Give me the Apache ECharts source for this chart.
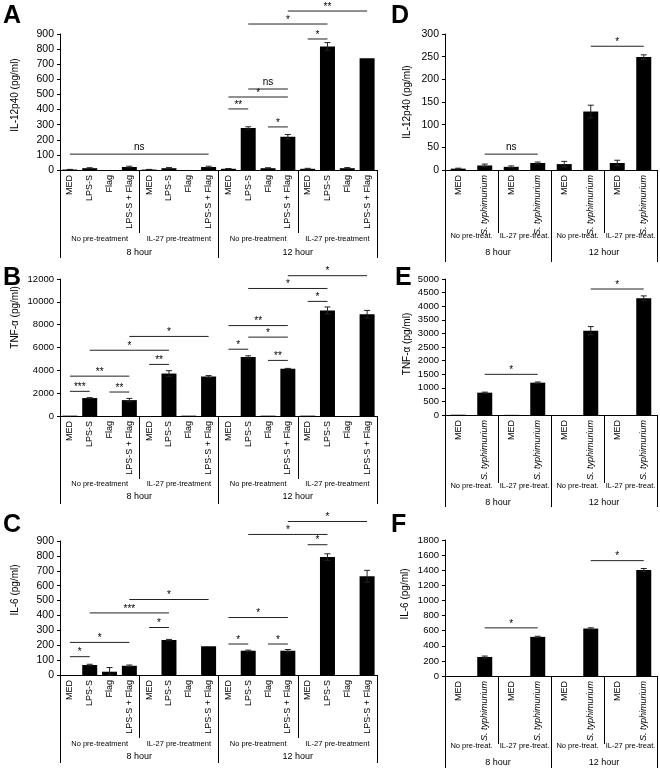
<!DOCTYPE html>
<html><head><meta charset="utf-8">
<script src="https://cdn.jsdelivr.net/npm/echarts@6/dist/echarts.min.js"></script>
<style>html,body{margin:0;padding:0;background:#fff}#c{width:660px;height:770px}</style>
</head><body><div id="c"></div>
<script>
const catsABC = ['MED','LPS-S','Flag','LPS-S + Flag','MED','LPS-S','Flag','LPS-S + Flag','MED','LPS-S','Flag','LPS-S + Flag','MED','LPS-S','Flag','LPS-S + Flag'];
const catsDEF = ['MED','S. typhimurium','MED','S. typhimurium','MED','S. typhimurium','MED','S. typhimurium'];
const subABC = ['No pre-treatment','IL-27 pre-treatment','No pre-treatment','IL-27 pre-treatment'];
const subDEF = ['No pre-treat.','IL-27 pre-treat.','No pre-treat.','IL-27 pre-treat.'];
const hours = ['8 hour','12 hour'];

const il12A    = [3,12,0,20,3,12,0,20,8,278,12,220,8,818,12,740];
const il12AErr = [1,3,0,5,1,4,0,5,2,8,3,15,3,25,4,0];
const tnfB     = [30,1570,0,1390,0,3720,30,3460,0,5170,30,4140,30,9250,0,8920];
const tnfBErr  = [0,40,0,150,0,250,0,80,0,100,0,30,0,300,0,330];
const il6C     = [0,67,22,62,0,235,0,193,0,163,0,163,0,792,0,663];
const il6CErr  = [0,5,28,5,0,4,0,0,0,4,0,8,0,22,0,40];
const il12D    = [3,10,7,15.5,13,129,15.5,249];
const il12DErr = [1,3,2,2,6,14,6,5];
const tnfE     = [10,821,5,1189,0,3100,0,4289];
const tnfEErr  = [0,20,0,25,0,150,0,90];
const il6F     = [0,252,0,518,0,628,0,1403];
const il6FErr  = [0,12,0,8,0,10,0,20];

// significance brackets: [fromCat, toCat, yValue, label]
const sigA = [[0,7,105,'ns'],[8,9,404,'**'],[8,11,483,'*'],[9,11,536,'ns'],[10,11,285,'*'],[12,13,867,'*'],[9,13,966,'*'],[11,15,1052,'**']];
const sigB = [[0,1,2160,'***'],[2,3,2100,'**'],[0,3,3490,'**'],[4,5,4520,'**'],[1,5,5760,'*'],[3,7,6970,'*'],[8,9,5850,'*'],[10,11,4870,'**'],[9,11,6910,'*'],[8,11,7920,'**'],[12,13,10040,'*'],[9,13,11170,'*'],[11,15,12290,'*']];
const sigC = [[0,1,123,'*'],[0,3,219,'*'],[4,5,319,'*'],[1,5,417,'***'],[3,7,507,'*'],[8,9,208,'*'],[10,11,208,'*'],[8,11,386,'*'],[12,13,875,'*'],[9,13,944,'*'],[11,15,1031,'*']];
const sigD = [[1,3,35,'ns'],[5,7,273,'*']];
const sigE = [[1,3,1495,'*'],[5,7,4632,'*']];
const sigF = [[1,3,637,'*'],[5,7,1527,'*']];

const FONT = "'Liberation Sans', Arial, sans-serif";
const panels = [
  {letter:'A', lx:3, ly:4, cats:catsABC, subs:subABC, vals:il12A, errs:il12AErr, sig:sigA, max:900, int:100, name:'IL-12p40 (pg/ml)', shift:14, gap:40,
   grid:{left:60, top:34, width:317, height:136}, yfs:10.5, subLen:63, hrLen:88, subM:65, hrM:78},
  {letter:'B', lx:3, ly:266, cats:catsABC, subs:subABC, vals:tnfB, errs:tnfBErr, sig:sigB, max:12000, int:2000, name:'TNF-\u03b1 (pg/ml)', shift:60, gap:40,
   grid:{left:60, top:279, width:317, height:137}, yfs:9.5, subLen:63, hrLen:88, subM:64, hrM:76},
  {letter:'C', lx:3, ly:513, cats:catsABC, subs:subABC, vals:il6C, errs:il6CErr, sig:sigC, max:900, int:100, name:'IL-6 (pg/ml)', shift:36, gap:40,
   grid:{left:60, top:541, width:317, height:134}, yfs:10.5, subLen:63, hrLen:88, subM:65, hrM:77},
  {letter:'D', lx:391, ly:4, cats:catsDEF, subs:subDEF, vals:il12D, errs:il12DErr, sig:sigD, max:300, int:50, name:'IL-12p40 (pg/ml)', shift:0, gap:33,
   grid:{left:445, top:34, width:212, height:136}, yfs:10.5, subLen:63, hrLen:92, subM:62, hrM:78},
  {letter:'E', lx:395, ly:266, cats:catsDEF, subs:subDEF, vals:tnfE, errs:tnfEErr, sig:sigE, max:5000, int:500, name:'TNF-\u03b1 (pg/ml)', shift:6, gap:33,
   grid:{left:445, top:279, width:212, height:136}, yfs:9.5, subLen:68, hrLen:92, subM:67, hrM:83},
  {letter:'F', lx:391, ly:513, cats:catsDEF, subs:subDEF, vals:il6F, errs:il6FErr, sig:sigF, max:1800, int:200, name:'IL-6 (pg/ml)', shift:28, gap:35,
   grid:{left:445, top:540, width:212, height:136}, yfs:9.5, subLen:68, hrLen:92, subM:66, hrM:82}
];

const grids = [], xAxes = [], yAxes = [], series = [], graphics = [];
const black = '#000';

panels.forEach((p, g) => {
  grids.push(p.grid);
  xAxes.push({
    type:'category', gridIndex:g, data:p.cats, position:'bottom',
    axisLine:{show:true, onZero:false, lineStyle:{color:black, width:1}},
    axisTick:{show:false},
    axisLabel:{interval:0, rotate:90, margin:5, fontSize:9, fontFamily:FONT, color:black,
      formatter: v => v === 'S. typhimurium' ? '{i|S. typhimurium}' : v,
      rich:{i:{fontStyle:'italic', fontSize:9, fontFamily:FONT, color:black}}}
  });
  xAxes.push({
    type:'category', gridIndex:g, data:p.subs, position:'bottom', offset:0,
    axisLine:{show:false, onZero:false},
    axisTick:{show:true, length:p.subLen, lineStyle:{color:black, width:1}},
    axisLabel:{interval:0, margin:p.subM, fontSize:7.5, fontFamily:FONT, color:black}
  });
  xAxes.push({
    type:'category', gridIndex:g, data:hours, position:'bottom', offset:0,
    axisLine:{show:false, onZero:false},
    axisTick:{show:true, length:p.hrLen, lineStyle:{color:black, width:1}},
    axisLabel:{interval:0, margin:p.hrM, fontSize:9, fontFamily:FONT, color:black}
  });
  yAxes.push({
    type:'value', gridIndex:g, min:0, max:p.max, interval:p.int,
    name:p.name, nameLocation:'middle', nameGap:p.gap,
    nameTextStyle:{fontSize:10, fontFamily:FONT, color:black, padding:[0,0,0,p.shift]},
    axisLine:{show:true, lineStyle:{color:black, width:1}},
    axisTick:{show:true, length:3, lineStyle:{color:black}},
    axisLabel:{margin:6, fontSize:p.yfs, fontFamily:FONT, color:black, formatter: v => String(v)},
    splitLine:{show:false}
  });
  series.push({
    type:'bar', xAxisIndex:3*g, yAxisIndex:g, data:p.vals, barWidth:15,
    itemStyle:{color:black}, silent:true
  });
  series.push({
    type:'custom', xAxisIndex:3*g, yAxisIndex:g, clip:false, silent:true, z:5,
    data:p.vals.map((v,i) => [i, v, p.errs[i]]),
    encode:{x:0, y:1},
    renderItem:(params, api) => {
      const err = api.value(2);
      if (!err) return null;
      const c = api.value(0), v = api.value(1);
      const top = api.coord([c, v + err]);
      const bot = api.coord([c, Math.max(0, v - err)]);
      const x = top[0], w = 3;
      const st = {stroke:'#222', lineWidth:1};
      return {type:'group', children:[
        {type:'line', shape:{x1:x, y1:top[1], x2:x, y2:bot[1]}, style:st},
        {type:'line', shape:{x1:x-w, y1:top[1], x2:x+w, y2:top[1]}, style:st},
        {type:'line', shape:{x1:x-w, y1:bot[1], x2:x+w, y2:bot[1]}, style:st}
      ]};
    }
  });
  const sig = p.sig;
  series.push({
    type:'custom', xAxisIndex:3*g, yAxisIndex:g, clip:false, silent:true, z:6,
    data:sig.map(s => [s[0], s[1], s[2]]),
    encode:{x:[0,1], y:2},
    renderItem:(params, api) => {
      const s = sig[params.dataIndex];
      const p1 = api.coord([s[0], s[2]]);
      const p2 = api.coord([s[1], s[2]]);
      const isNs = s[3] === 'ns';
      return {type:'group', children:[
        {type:'line', shape:{x1:p1[0], y1:p1[1], x2:p2[0], y2:p2[1]}, style:{stroke:'#222', lineWidth:1}},
        {type:'text', style:{text:s[3], x:(p1[0]+p2[0])/2, y:p1[1] - (isNs ? 7 : 4),
          textAlign:'center', textVerticalAlign:'middle', fontSize:10, fontFamily:FONT, fill:black}}
      ]};
    }
  });
  graphics.push({type:'text', left:p.lx, top:p.ly, style:{text:p.letter, fontSize:25, fontWeight:'bold', fontFamily:FONT, fill:black}});
});

const chart = echarts.init(document.getElementById('c'), null, {renderer:'canvas'});
chart.setOption({
  animation:false,
  backgroundColor:'#fff',
  grid:grids, xAxis:xAxes, yAxis:yAxes, series:series, graphic:graphics
});
</script>
</body></html>
